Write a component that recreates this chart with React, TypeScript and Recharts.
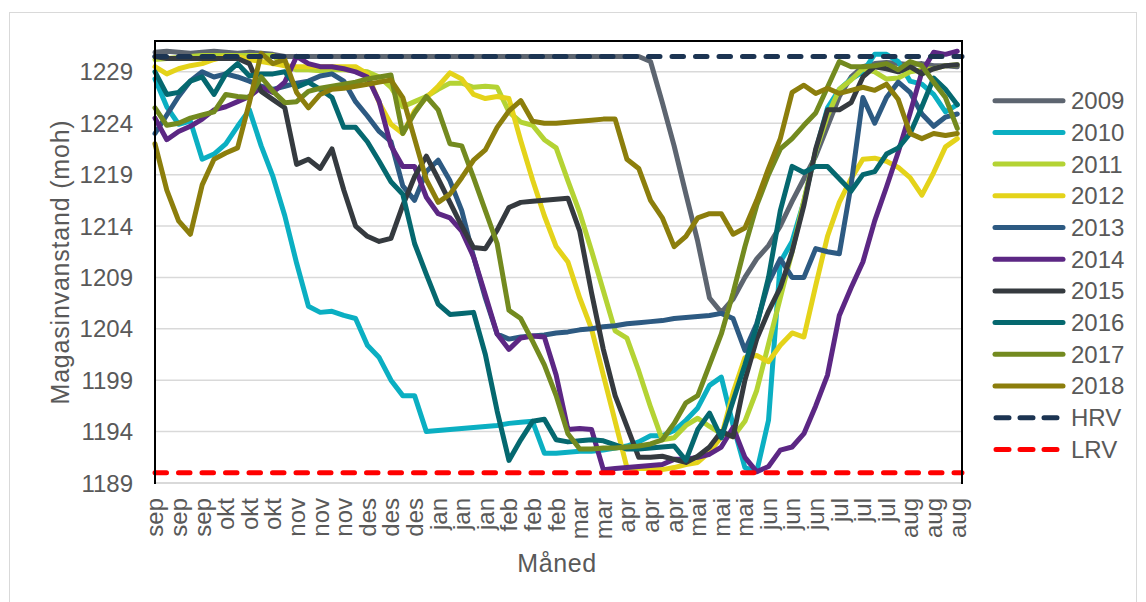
import React from 'react';
import { LineChart, Line, XAxis, YAxis, CartesianGrid, ReferenceLine } from 'recharts';

// tick labels along the x axis (one label per ~10 days, Sept -> Aug)
const MONTH_TICKS = [
  'sep', 'sep', 'sep', 'okt', 'okt', 'okt', 'nov', 'nov', 'nov', 'des', 'des', 'des',
  'jan', 'jan', 'jan', 'feb', 'feb', 'feb', 'mar', 'mar', 'apr', 'apr', 'apr',
  'mai', 'mai', 'mai', 'jun', 'jun', 'jun', 'jul', 'jul', 'jul', 'aug', 'aug', 'aug',
];
const Y_TICKS = [1189, 1194, 1199, 1204, 1209, 1214, 1219, 1224, 1229];

const HRV = 1230.5;
const LRV = 1190;

// water level (moh), two readings per tick label
const Y2009 = [
  1230.9, 1231, 1230.9, 1230.8, 1230.9, 1231, 1230.9, 1230.8, 1230.9, 1230.8, 1230.7,
  1230.5, 1230.5, 1230.5, 1230.5, 1230.5, 1230.5, 1230.5, 1230.5, 1230.5, 1230.5, 1230.5,
  1230.5, 1230.5, 1230.5, 1230.5, 1230.5, 1230.5, 1230.5, 1230.5, 1230.5, 1230.5, 1230.5,
  1230.5, 1230.5, 1230.5, 1230.5, 1230.5, 1230.5, 1230.5, 1230.5, 1230.5,
  1230, 1226, 1221.8, 1217.1, 1212.5, 1207, 1205.6, 1206.9, 1209, 1210.8, 1212.1, 1214,
  1216.4, 1218.6, 1220.8, 1223.7, 1226.6, 1228.5, 1229.5, 1229.8, 1229.9, 1229.8, 1229.7,
  1229.8, 1229.6, 1229.6, 1229.5,
];
const Y2010 = [
  1228.3, 1225.6, 1223.9, 1224.2, 1220.5, 1221, 1222, 1223.7, 1225.3, 1221.8,
  1218.8, 1215, 1210.4, 1206.2, 1205.6, 1205.7, 1205.3, 1205, 1202.4, 1201.2,
  1199, 1197.5, 1197.5, 1194, 1194.1, 1194.2, 1194.3, 1194.4, 1194.5, 1194.6,
  1194.8, 1194.9, 1195, 1191.9, 1191.9, 1192, 1192.1, 1192.1, 1192.2, 1192.4,
  1192.6, 1193, 1193.6, 1193.6, 1194.1, 1195.1, 1196.3, 1198.5, 1199.3, 1194.6,
  1190.5, 1190.1, 1195.1, 1210.5, 1212.5, 1216.4, 1221.3, 1225.5, 1227.3, 1228.3,
  1229, 1230.7, 1230.7, 1230, 1228.1, 1227.8, 1226.8, 1225.1, 1225.8,
];
const Y2011 = [
  1230.2, 1230.3, 1230.4, 1230.5, 1230.6, 1230.6, 1230.6, 1230.6, 1230.6, 1230.6, 1230.6,
  1229.6, 1229.2, 1229.2, 1229.1, 1229.2, 1229.2, 1229.1, 1229, 1228.5, 1227.5,
  1225.6, 1226.1, 1226.6, 1227.3, 1227.9, 1227.9, 1227.5, 1227.6, 1227.5, 1225.1,
  1224.1, 1223.8, 1222.4, 1221.6, 1218.4, 1215.3, 1211.6, 1207.7, 1203.8, 1203.1,
  1199.9, 1196.4, 1193.2, 1193.4, 1194.6, 1195.3,
  1194.5, 1193.8, 1193.5, 1195, 1198, 1202.5, 1207, 1211.5, 1216.5, 1221.3, 1224.7,
  1227.3, 1228.2, 1229.3, 1229, 1228.3, 1228.4, 1229, 1229.2, 1229.3, 1229.6, 1229.7,
];
const Y2012 = [
  1229.5, 1228.8, 1229.3, 1229.6, 1229.8, 1230.2, 1230.5, 1230.5, 1230.2, 1230,
  1229.8, 1229.6, 1229.5, 1229.5, 1229.5, 1229.5, 1229.5, 1229.5, 1228.8, 1226,
  1223.9, 1223, 1225.2, 1226.5, 1227.6, 1228.9, 1228.3, 1226.8, 1226.4, 1226.6,
  1226.4, 1222.3, 1218.5, 1215, 1212, 1210.5, 1207, 1204, 1199.5, 1195,
  1190.5, 1190.4, 1190.4, 1190.3, 1190.5, 1190.8, 1191, 1192, 1193.5, 1197.8,
  1201.2, 1201.4, 1200.8, 1202.4, 1203.6, 1203.2, 1208.2, 1213, 1216.3, 1218.6,
  1220.5, 1220.6, 1220.3, 1219.7, 1218.7, 1217, 1219.2, 1221.7, 1222.5,
];
const Y2013 = [
  1223, 1224.8, 1226.6, 1228.1, 1229, 1228.5, 1228.8, 1228.5, 1228.1, 1227.6,
  1227.3, 1227.6, 1227.9, 1228.1, 1228.6, 1228.8, 1228.1, 1226.1, 1224.7, 1223.2,
  1222.2, 1217.9, 1216.5, 1219.3, 1220.4, 1218.4, 1215.5, 1211, 1207, 1203.5,
  1203, 1203.2, 1203.3, 1203.4, 1203.6, 1203.7, 1203.9, 1204, 1204.2, 1204.3,
  1204.5, 1204.6, 1204.7, 1204.8, 1205, 1205.1, 1205.2, 1205.3, 1205.5, 1205,
  1201.9, 1204.5, 1208.5, 1210.8, 1209, 1209, 1211.8, 1211.5, 1211.3, 1218,
  1226.5, 1224, 1226.5, 1228, 1227, 1224.9, 1223.7, 1224.6, 1224.9,
];
const Y2014 = [
  1224.5, 1222.4, 1223.2, 1223.7, 1224.4, 1225.3, 1225.6, 1226.1, 1226.6, 1227.5,
  1227, 1228, 1230.5, 1229.8, 1229.5, 1229.5, 1229.3, 1229, 1228.5, 1226.1,
  1221.8, 1219.8, 1219.8, 1216.8, 1215.2, 1214.8, 1213.5, 1211, 1207.3, 1203.5,
  1202, 1203.1, 1203.3, 1203.2, 1199.5, 1194.2, 1194.3, 1194.2, 1190.3, 1190.4,
  1190.5, 1190.6, 1190.7, 1190.8, 1191.3, 1191.3, 1191.5, 1191.8, 1192.5, 1194.4,
  1191.5, 1190.1, 1190.6, 1192.2, 1192.5, 1193.8, 1196.5, 1199.5, 1205.3, 1208,
  1210.5, 1214.5, 1217.8, 1221.2, 1225, 1229, 1230.9, 1230.7, 1231,
];
const Y2015 = [
  1230.5, 1230.3, 1230.3, 1230.3, 1230.3, 1230.3, 1230.3, 1230.3, 1229.8, 1227.1,
  1226.3, 1225.5, 1220, 1220.5, 1219.6, 1221.5, 1217.5, 1214, 1213, 1212.5,
  1212.8, 1216, 1218.8, 1220.8, 1218.6, 1216.3, 1214, 1211.9, 1211.8, 1213.6,
  1215.8, 1216.3, 1216.4, 1216.5, 1216.6, 1216.7, 1213.5, 1207.5, 1202, 1197.5,
  1194.5, 1191.5, 1191.5, 1191.6, 1191.3, 1191, 1191.6, 1192.5, 1194, 1193.5,
  1199, 1203, 1205.7, 1208, 1211.5, 1216, 1221.5, 1225.3, 1225.3, 1226,
  1228.5, 1229.5, 1229.3, 1229, 1229.5, 1228.8, 1229.3, 1229.6, 1229.7,
];
const Y2016 = [
  1229, 1226.8, 1227, 1228.1, 1228.5, 1226.8, 1228.8, 1229.8, 1228.6, 1228.8,
  1228.8, 1229, 1227.5, 1228, 1227.3, 1226.5, 1223.6, 1223.6, 1222.2, 1220.3,
  1218.3, 1217.1, 1212.3, 1209.3, 1206.4, 1205.4, 1205.5, 1205.6, 1201.5, 1196,
  1191.2, 1193.2, 1195, 1195.2, 1193.2, 1193, 1193.1, 1193.2, 1193.1, 1192.7,
  1192.3, 1192.3, 1192.4, 1192.5, 1192.6, 1191.2, 1194.2, 1195.8, 1193.4, 1197,
  1200.5, 1204.3, 1209, 1215.5, 1219.8, 1219.2, 1219.8, 1219.8, 1218.6, 1217.4,
  1219, 1219.3, 1221, 1221.6, 1223, 1225.6, 1228.4, 1227.3, 1225.8,
];
const Y2017 = [
  1225.5, 1223.8, 1224, 1224.5, 1224.8, 1225.1, 1226.8, 1226.6, 1226.5, 1228.5,
  1227.1, 1226, 1226.1, 1227.1, 1227.4, 1227.6, 1227.8, 1228, 1228.3, 1228.5,
  1228.7, 1223, 1225, 1226.6, 1225.3, 1222, 1221.8, 1218.7, 1215.5, 1212.3,
  1205.8, 1205, 1202.8, 1200.5, 1197.5, 1193.8, 1192.3, 1192.3, 1192.4, 1192.4,
  1192.5, 1192.6, 1192.8, 1193.2, 1194.8, 1196.8, 1197.5, 1200.5, 1203.5, 1207.5,
  1212, 1216, 1219, 1221.5, 1222.5, 1223.8, 1225, 1227.5, 1230, 1229.5,
  1229.5, 1229.6, 1229.8, 1229.2, 1230, 1229.6, 1228, 1226.5, 1223.5,
];
const Y2018 = [
  1222, 1217.5, 1214.5, 1213.2, 1218, 1220.5, 1221.1, 1221.6, 1226, 1230.8,
  1229.8, 1230.2, 1227, 1225.5, 1226.8, 1227.3, 1227.4, 1227.6, 1227.8, 1228,
  1228.2, 1226.5, 1222.5, 1218.5, 1216.3, 1217.1, 1218.7, 1220.4, 1221.4, 1223.6,
  1225.2, 1226.2, 1224.2, 1224, 1224, 1224.1, 1224.2, 1224.3, 1224.4, 1224.4,
  1220.5, 1219.6, 1216.5, 1214.8, 1212, 1213, 1214.8, 1215.2, 1215.2, 1213.2,
  1213.8, 1216.5, 1219.6, 1222.5, 1227, 1227.7, 1226.9, 1227.4, 1226.9, 1227.2,
  1227.5, 1227.2, 1227.8, 1226.3, 1223, 1222.5, 1223, 1222.8, 1223,
];

const SERIES = [
  { key: 'y2009', name: '2009', color: '#5d6570', values: Y2009 },
  { key: 'y2010', name: '2010', color: '#0bafc2', values: Y2010 },
  { key: 'y2011', name: '2011', color: '#b4d334', values: Y2011 },
  { key: 'y2012', name: '2012', color: '#e4d31a', values: Y2012 },
  { key: 'y2013', name: '2013', color: '#2d5a82', values: Y2013 },
  { key: 'y2014', name: '2014', color: '#5c2784', values: Y2014 },
  { key: 'y2015', name: '2015', color: '#353a3f', values: Y2015 },
  { key: 'y2016', name: '2016', color: '#05686f', values: Y2016 },
  { key: 'y2017', name: '2017', color: '#738a1f', values: Y2017 },
  { key: 'y2018', name: '2018', color: '#8c7e0c', values: Y2018 },
];

const HRV_COLOR = '#1c3452';
const LRV_COLOR = '#ff0000';
const FONT = '"Liberation Sans", Arial, sans-serif';
const TEXT = '#595959';

const data = Y2009.map((_, i) => {
  const row: Record<string, number> = { pos: i };
  SERIES.forEach(s => { row[s.key] = s.values[i]; });
  return row;
});

const xTicks = MONTH_TICKS.map((_, k) => k * 2);

const MonthTick = (props: any) => {
  const { x, y, payload } = props;
  return (
    <text
      x={x}
      y={y}
      dx={-15}
      dy="0.35em"
      transform={`rotate(-90, ${x}, ${y})`}
      textAnchor="end"
      fill={TEXT}
      fontSize={24}
      fontFamily={FONT}
    >
      {MONTH_TICKS[Math.round(payload.value / 2)]}
    </text>
  );
};

const legendRows = [
  ...SERIES.map(s => ({ name: s.name, color: s.color, dashed: false })),
  { name: 'HRV', color: HRV_COLOR, dashed: true },
  { name: 'LRV', color: LRV_COLOR, dashed: true },
];

export default function App() {
  return (
    <div style={{ position: 'absolute', left: 0, top: 0, width: 1146, height: 602, background: '#fff', fontFamily: FONT }}>
      <div style={{ position: 'absolute', left: 9, top: 12, width: 1128, height: 592, border: '1px solid #d9d9d9', boxSizing: 'border-box' }} />
      <div style={{ position: 'absolute', left: 0, top: 0 }}>
        <LineChart width={1146} height={602} data={data} margin={{ top: 41, right: 184, bottom: 0, left: 0 }}>
          <CartesianGrid vertical={false} stroke="#d9d9d9" strokeWidth={1.5} />
          <XAxis
            dataKey="pos"
            type="number"
            domain={[0, 68.4]}
            ticks={xTicks}
            interval={0}
            height={119}
            tick={<MonthTick />}
            tickLine={false}
            tickSize={0}
            tickMargin={0}
            axisLine={{ stroke: '#d9d9d9', strokeWidth: 2 }}
          />
          <YAxis
            type="number"
            domain={[1189, 1232]}
            ticks={Y_TICKS}
            width={155}
            interval={0}
            tickLine={false}
            tickSize={0}
            tickMargin={22}
            axisLine={false}
            tick={{ fill: TEXT, fontSize: 24, fontFamily: FONT }}
          />
          {SERIES.map(s => (
            <Line
              key={s.key}
              type="linear"
              dataKey={s.key}
              name={s.name}
              stroke={s.color}
              strokeWidth={5}
              strokeLinejoin="round"
              strokeLinecap="round"
              dot={false}
              activeDot={false}
              isAnimationActive={false}
            />
          ))}
          <ReferenceLine y={HRV} stroke={HRV_COLOR} strokeWidth={5} strokeDasharray="11.5 12" strokeLinecap="round" />
          <ReferenceLine y={LRV} stroke={LRV_COLOR} strokeWidth={5} strokeDasharray="11.5 12" strokeLinecap="round" />
        </LineChart>
      </div>
      {/* plot frame: black on top and sides */}
      <div style={{ position: 'absolute', left: 154, top: 40, width: 809, height: 444, borderTop: '2px solid #000', borderLeft: '2px solid #000', borderRight: '2px solid #000', boxSizing: 'border-box' }} />
      <svg width={1146} height={602} style={{ position: 'absolute', left: 0, top: 0, pointerEvents: 'none' }}>
        <text x={60} y={262} transform="rotate(-90, 60, 262)" textAnchor="middle" dy="0.35em" fontSize={25} letterSpacing={0.8} fill={TEXT} fontFamily={FONT}>
          Magasinvanstand (moh)
        </text>
        <text x={557} y={572} textAnchor="middle" fontSize={25} letterSpacing={0.6} fill={TEXT} fontFamily={FONT}>
          Måned
        </text>
        {legendRows.map((r, k) => {
          const cy = 100.7 + k * 31.7;
          return (
            <g key={r.name}>
              <line
                x1={r.dashed ? 996 : 995}
                x2={r.dashed ? 1062 : 1063}
                y1={cy}
                y2={cy}
                stroke={r.color}
                strokeWidth={5}
                strokeLinecap="round"
                strokeDasharray={r.dashed ? '13 11' : undefined}
              />
              <text x={1071} y={cy} dy="0.35em" fontSize={24} fill={TEXT} fontFamily={FONT}>
                {r.name}
              </text>
            </g>
          );
        })}
      </svg>
    </div>
  );
}
